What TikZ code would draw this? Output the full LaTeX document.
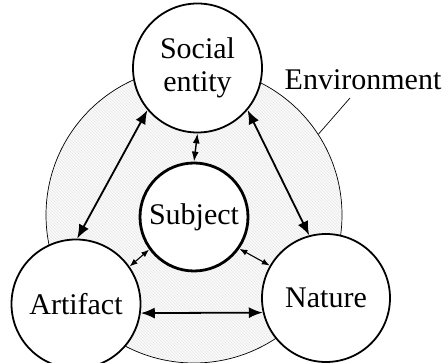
\documentclass[tikz,border=0pt]{standalone}
\usepackage{fontspec}
\setmainfont{Liberation Serif}
\usetikzlibrary{arrows.meta,patterns}
\begin{document}
\begin{tikzpicture}[x=1pt,y=-1pt,
  every node/.style={font=\fontsize{30}{33}\selectfont},
  entity/.style={circle,draw,line width=1.8pt,fill=white,inner sep=0pt,align=center},
  bigarrow/.style={line width=1.8pt,{Latex[length=14pt,width=11pt]}-{Latex[length=14pt,width=11pt]}},
  midarrow/.style={line width=1.4pt,{Latex[length=10pt,width=7pt]}-{Latex[length=10pt,width=7pt]}},
  smallarrow/.style={line width=1.1pt,{Latex[length=8pt,width=6pt]}-{Latex[length=8pt,width=6pt]}}]
  \clip (0,0) rectangle (445,363);
  \useasboundingbox (0,0) rectangle (445,363);
  % environment ring
  \node[circle,draw,line width=0.7pt,minimum size=296pt,inner sep=0pt,
        preaction={fill=gray!4},pattern=north west lines,pattern color=gray!18] (env) at (194,215) {};
  % entities
  \node[entity,minimum size=129pt] (soc) at (197.5,68) {Social\\entity};
  \node[entity,minimum size=108pt,line width=2.8pt] (subj) at (194,217) {Subject};
  \node[entity,minimum size=129pt] (art) at (76,304) {Artifact};
  \node[entity,minimum size=128pt] (nat) at (326,298) {Nature};
  % relations
  \draw[bigarrow] (soc.220) -- (art.89);
  \draw[bigarrow] (soc.320) -- (nat.105);
  \draw[midarrow] (soc.270) -- (subj.90);
  \draw[bigarrow] (art.352) -- (nat.193.5);
  \draw[smallarrow] (subj.216) -- (art.35);
  \draw[smallarrow] (subj.325) -- (nat.150);
  % label of the ring
  \node (envlbl) at (363,80) {Environment};
  \coordinate (leadtop) at (350,98);
  \draw[line width=0.7pt] (env.33) -- (leadtop);
\end{tikzpicture}
\end{document}
